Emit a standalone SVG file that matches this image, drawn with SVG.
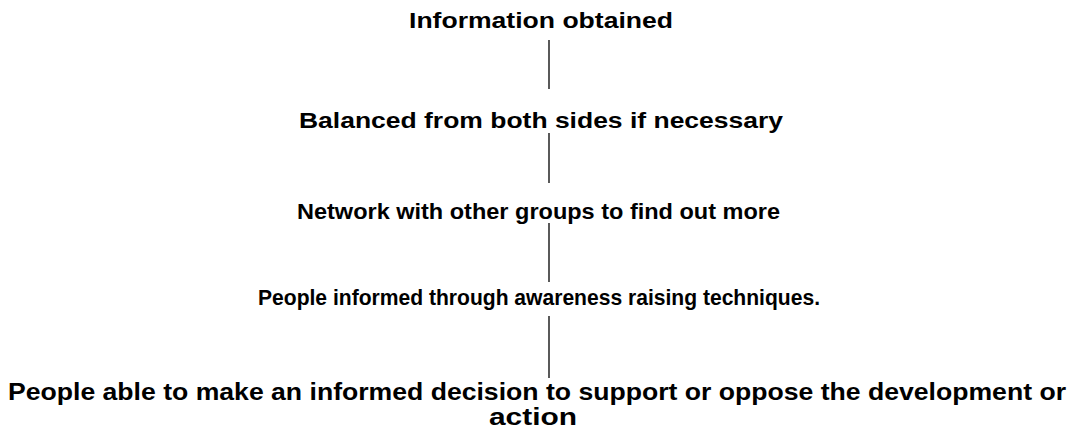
<svg xmlns="http://www.w3.org/2000/svg" width="1074" height="432" viewBox="0 0 1074 432">
<style>
text{font-family:"Liberation Sans",Arial,sans-serif;font-weight:bold;font-size:22px;fill:#000;text-anchor:middle}
.big{font-size:24.5px}
.c{stroke:#000;stroke-width:1.3;fill:none}
</style>
<rect width="1074" height="432" fill="#fff"/>
<g id="connectors">
<line class="c" x1="549" y1="40" x2="549" y2="89"/>
<line class="c" x1="549" y1="133" x2="549" y2="183"/>
<line class="c" x1="549" y1="223" x2="549" y2="282"/>
<line class="c" x1="549" y1="316" x2="549" y2="378"/>
</g>
<g id="n1"><text x="541" y="28" textLength="264" lengthAdjust="spacingAndGlyphs">Information obtained</text></g>
<g id="n2"><text x="541" y="128" textLength="484" lengthAdjust="spacingAndGlyphs">Balanced from both sides if necessary</text></g>
<g id="n3"><text x="538.5" y="219" textLength="483" lengthAdjust="spacingAndGlyphs">Network with other groups to find out more</text></g>
<g id="n4"><text x="539" y="305" textLength="562" lengthAdjust="spacingAndGlyphs">People informed through awareness raising techniques.</text></g>
<g id="n5"><text class="big" x="537" y="400" textLength="1058" lengthAdjust="spacingAndGlyphs">People able to make an informed decision to support or oppose the development or</text><text class="big" x="533" y="425" textLength="88" lengthAdjust="spacingAndGlyphs">action</text></g>
</svg>
